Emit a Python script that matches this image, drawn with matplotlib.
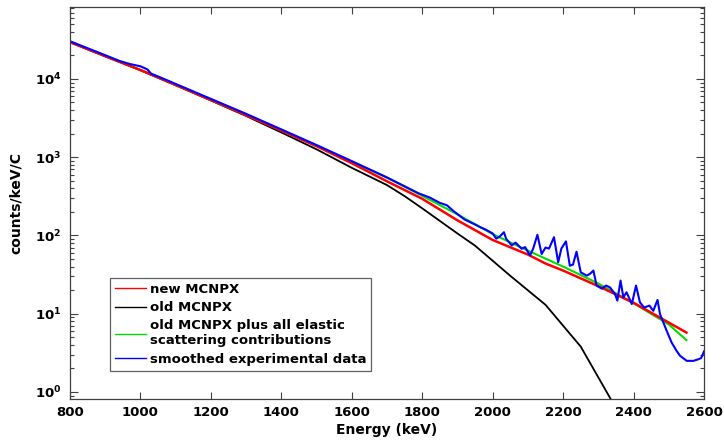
import math

import matplotlib

matplotlib.use("Agg")

import matplotlib.pyplot as plt
from matplotlib.ticker import FixedLocator, FuncFormatter, LogLocator, NullLocator

plt.rcParams["font.family"] = ["DejaVu Sans"]
plt.rcParams["font.weight"] = "bold"

# Simulated spectra (keV, counts/keV/C)
new_mcnpx_e = [800, 900, 1000, 1100, 1200, 1300, 1400, 1500, 1600, 1700, 1800,
               1900, 2000, 2100, 2150, 2200, 2300, 2400, 2500, 2550]
new_mcnpx_y = [2.95e4, 1.95e4, 1.30e4, 8.38e3, 5.38e3, 3.45e3, 2.19e3, 1.38e3, 838, 492, 294,
               156, 87.5, 57, 43.8, 35.6, 22.5, 13.8, 7.7, 5.75]

old_mcnpx_e = [800, 900, 1000, 1100, 1200, 1300, 1400, 1500, 1600, 1700, 1750, 1800,
               1900, 1950, 2050, 2150, 2250, 2350]
old_mcnpx_y = [2.95e4, 1.95e4, 1.29e4, 8.3e3, 5.3e3, 3.36e3, 2.07e3, 1.26e3, 731, 440, 318, 222,
               106, 74, 30.5, 13.0, 3.8, 0.62]

elastic_e = [800, 900, 1000, 1100, 1200, 1300, 1400, 1500, 1600, 1700, 1800,
             1900, 2000, 2100, 2200, 2300, 2400, 2500, 2550]
elastic_y = [2.95e4, 1.95e4, 1.30e4, 8.38e3, 5.38e3, 3.45e3, 2.19e3, 1.40e3, 875, 546, 321,
             186, 104, 64, 40, 24.3, 13.6, 7.3, 4.6]

# Smoothed measured spectrum
exp_e = [800, 900, 940, 970, 985, 1000, 1020, 1030, 1060, 1100, 1200, 1300, 1400, 1500,
         1600, 1680, 1700, 1750, 1790, 1820, 1850, 1870, 1890, 1920, 1950, 1964,
         1980, 2000, 2010, 2020, 2032, 2038, 2054, 2065, 2082, 2092, 2106, 2115, 2127,
         2139, 2150, 2160, 2174, 2186, 2195, 2208, 2219, 2228, 2238, 2250, 2267, 2276,
         2286, 2295, 2310, 2322, 2333, 2347, 2354, 2363, 2371, 2380, 2395, 2407, 2418,
         2430, 2445, 2456, 2468, 2475, 2494, 2508, 2522, 2532, 2551, 2570, 2584, 2592,
         2600]
exp_y = [3.03e4, 2.01e4, 1.70e4, 1.55e4, 1.50e4, 1.45e4, 1.32e4, 1.17e4, 1.03e4, 8.63e3,
         5.56e3, 3.58e3, 2.265e3, 1.43e3, 891, 607, 551, 425, 345, 307, 261, 243,
         203, 160, 138, 128, 119, 106, 91, 97, 110, 91, 74.5, 81, 67.6, 71, 55.5, 68, 102,
         58, 70, 68, 95, 45.5, 68, 84, 41, 42.5, 62, 33.8, 30.7, 32.3, 35.6, 22.9, 20.9,
         22.9, 21.7, 17.9, 14.7, 26.5, 16.2, 18.8, 13.3, 22.9, 14.0, 12.0, 12.7, 10.9, 15.0,
         9.9, 6.05, 4.29, 3.36, 2.9, 2.5, 2.5, 2.62, 2.72, 3.3]

x_ticks = [800, 1000, 1200, 1400, 1600, 1800, 2000, 2200, 2400, 2600]
y_ticks = [1, 10, 100, 1000, 10000]

fig = plt.figure(figsize=(7.24, 4.42), dpi=100)
ax = fig.add_axes([0.0967, 0.0973, 0.8757, 0.8869])

ax.plot(old_mcnpx_e, old_mcnpx_y, color="black", linewidth=1.3, label="old MCNPX")
ax.plot(elastic_e, elastic_y, color="#00dd00", linewidth=1.5,
        label="old MCNPX plus all elastic\nscattering contributions")
ax.plot(new_mcnpx_e, new_mcnpx_y, color="#ff0000", linewidth=1.8, label="new MCNPX")
ax.plot(exp_e, exp_y, color="#0000ff", linewidth=1.5, label="smoothed experimental data")

ax.set_yscale("log")
ax.set_xlim(800, 2600)
ax.set_ylim(0.814, 8.3e4)

ax.xaxis.set_major_locator(FixedLocator(x_ticks))
ax.xaxis.set_minor_locator(NullLocator())
ax.yaxis.set_major_locator(FixedLocator(y_ticks))
ax.yaxis.set_minor_locator(LogLocator(base=10, subs=range(2, 10)))
ax.yaxis.set_major_formatter(
    FuncFormatter(lambda v, _: r"$\mathbf{10}^{%d}$" % round(math.log10(v))))

ax.tick_params(which="both", direction="in", top=True, right=True, colors="#404040",
               labelcolor="black", labelsize=9.5, width=0.8)
ax.tick_params(axis="x", which="major", length=5, pad=5)
ax.tick_params(axis="y", which="major", length=6, pad=6)
ax.tick_params(axis="y", which="minor", length=3)
for spine in ax.spines.values():
    spine.set_color("#404040")
    spine.set_linewidth(0.9)

ax.set_xlabel("Energy (keV)", fontsize=10, fontweight="bold", labelpad=3)
ax.set_ylabel("counts/keV/C", fontsize=10, fontweight="bold")
ax.yaxis.set_label_coords(-0.074, 0.5)

handles, labels = ax.get_legend_handles_labels()
order = [2, 0, 1, 3]
leg = ax.legend([handles[i] for i in order], [labels[i] for i in order],
                loc="lower left", bbox_to_anchor=(0.063, 0.0714), borderaxespad=0,
                fontsize=9.5, handlelength=2.35, handletextpad=0.25, labelspacing=0.4,
                borderpad=0.4, fancybox=False, framealpha=1, edgecolor="#606060")
leg.get_frame().set_linewidth(0.9)
for line in leg.get_lines():
    line.set_linewidth(1.0)

fig.savefig("out.png", dpi=100)
